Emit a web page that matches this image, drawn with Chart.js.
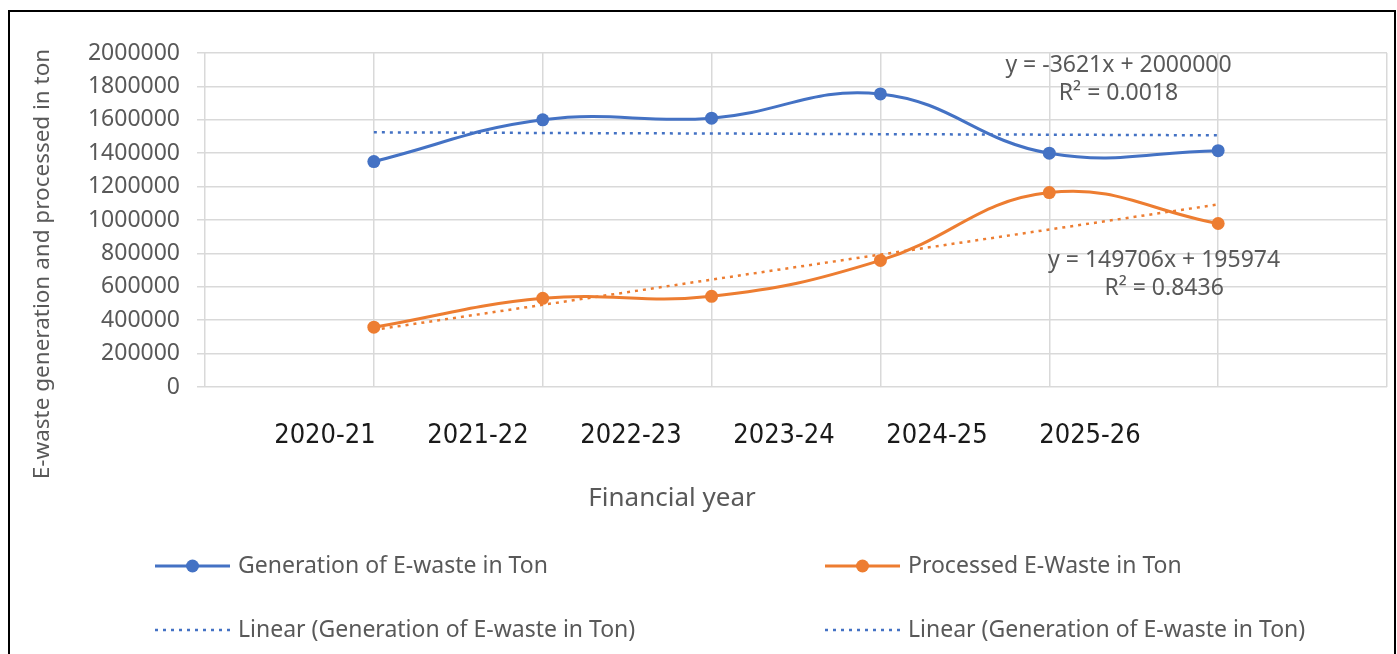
<!DOCTYPE html>
<html>
<head>
<meta charset="utf-8">
<script src="https://cdn.jsdelivr.net/npm/chart.js@4.4.1/dist/chart.umd.min.js"></script>
<style>
  html, body { margin: 0; padding: 0; background: #fff; overflow: hidden; }
  #frame { position: absolute; left: 8px; top: 10px; width: 1384px; height: 700px; border: 2px solid #000; }
  #wrap { position: relative; width: 1384px; height: 660px; }
</style>
</head>
<body>
<div id="frame"><div id="wrap"><canvas id="chart"></canvas></div></div>
<script>
const years = ["2020-21", "2021-22", "2022-23", "2023-24", "2024-25", "2025-26"];
const generation = [1350000, 1600000, 1610000, 1755000, 1400000, 1415000];
const processed = [358000, 531000, 543000, 758000, 1164000, 979000];
const generationTrend = [1525000, 1521000, 1518000, 1514000, 1511000, 1507000];
const processedTrend = [342000, 492000, 643000, 793000, 943000, 1093000];
const generationEq = ["y = -3621x + 2000000", "R² = 0.0018"];
const processedEq = ["y = 149706x + 195974", "R² = 0.8436"];
const legendLabels = [
    "Generation of E-waste in Ton",
    "Processed E-Waste in Ton",
    "Linear (Generation of E-waste in Ton)",
    "Linear (Generation of E-waste in Ton)"
];

const BLUE = "#4472C4";
const ORANGE = "#ED7D31";
const GRID = "#d9d9d9";
const GREY = "#595959";
const FONT = "'Noto Sans', 'DejaVu Sans', sans-serif";
const NARROW = "'Liberation Sans Narrow', 'DejaVu Sans Condensed', sans-serif";

const pts = arr => arr.map((v, i) => ({ x: i + 1, y: v }));

// free texts: axis titles and the trendline equations
const textPlugin = {
    id: "freeText",
    afterDraw(chart) {
        const c = chart.ctx;
        const { x, y } = chart.scales;
        c.save();
        c.fillStyle = GREY;
        c.textAlign = "center";
        c.textBaseline = "middle";

        c.font = `22.5px ${FONT}`;
        c.save();
        c.translate(33, 252);
        c.rotate(-Math.PI / 2);
        c.fillText("E-waste generation and processed in ton", 0, 0);
        c.restore();

        c.font = `26px ${FONT}`;
        c.fillText("Financial year", 662, 487);

        c.font = `23px ${FONT}`;
        c.fillText(generationEq[0], x.getPixelForValue(5.41), y.getPixelForValue(1925000));
        c.fillText(generationEq[1], x.getPixelForValue(5.41), y.getPixelForValue(1760000));
        c.fillText(processedEq[0], x.getPixelForValue(5.68), y.getPixelForValue(758000));
        c.fillText(processedEq[1], x.getPixelForValue(5.68), y.getPixelForValue(591000));
        c.restore();
    }
};

// two-column legend like the Excel one
const legendPlugin = {
    id: "gridLegend",
    afterDraw(chart) {
        const c = chart.ctx;
        const cols = [145, 815];
        const rows = [554, 618];
        const len = 75;
        c.save();
        chart.data.datasets.forEach((ds, i) => {
            const x0 = cols[i % 2];
            const y0 = rows[Math.floor(i / 2)];
            const col = ds.legendColor || ds.borderColor;
            c.strokeStyle = col;
            c.fillStyle = col;
            c.lineWidth = ds.borderWidth;
            c.setLineDash(ds.borderDash || []);
            c.beginPath();
            c.moveTo(x0, y0);
            c.lineTo(x0 + len, y0);
            c.stroke();
            c.setLineDash([]);
            if (ds.pointRadius) {
                c.beginPath();
                c.arc(x0 + len / 2, y0, ds.pointRadius, 0, Math.PI * 2);
                c.fill();
            }
            c.fillStyle = GREY;
            c.font = `23px ${FONT}`;
            c.textAlign = "left";
            c.textBaseline = "middle";
            c.fillText(legendLabels[i], x0 + len + 8, y0);
        });
        c.restore();
    }
};

new Chart(document.getElementById("chart"), {
    type: "line",
    data: {
        datasets: [
            {
                label: legendLabels[0],
                data: pts(generation),
                borderColor: BLUE,
                backgroundColor: BLUE,
                borderWidth: 3,
                pointRadius: 6.5,
                pointBorderWidth: 0,
                tension: 0.42
            },
            {
                label: legendLabels[1],
                data: pts(processed),
                borderColor: ORANGE,
                backgroundColor: ORANGE,
                borderWidth: 3,
                pointRadius: 6.5,
                pointBorderWidth: 0,
                tension: 0.42
            },
            {
                label: legendLabels[2],
                data: pts(generationTrend),
                borderColor: BLUE,
                borderWidth: 2.5,
                borderDash: [3, 5],
                pointRadius: 0,
                tension: 0
            },
            {
                label: legendLabels[3],
                data: pts(processedTrend),
                borderColor: ORANGE,
                legendColor: BLUE,
                borderWidth: 2.5,
                borderDash: [3, 5],
                pointRadius: 0,
                tension: 0
            }
        ]
    },
    options: {
        responsive: true,
        maintainAspectRatio: false,
        animation: false,
        layout: { padding: { left: 0, right: 7, top: 41, bottom: 160 } },
        plugins: {
            legend: { display: false },
            tooltip: { enabled: false }
        },
        scales: {
            x: {
                type: "linear",
                min: 0,
                max: 7,
                ticks: { display: false, stepSize: 1 },
                grid: { color: GRID, lineWidth: 1.5, drawTicks: false },
                border: { display: false },
                afterFit: s => { s.height = 0; }
            },
            x2: {
                type: "linear",
                position: "bottom",
                min: -0.784,
                max: 6.941,
                afterBuildTicks: s => { s.ticks = years.map((_, i) => ({ value: i })); },
                ticks: {
                    autoSkip: false,
                    maxRotation: 0,
                    padding: 33,
                    color: "#1a1a1a",
                    font: { family: NARROW, size: 27 },
                    callback: v => years[v]
                },
                grid: { display: false, drawTicks: false },
                border: { display: false },
                afterFit: s => { s.height = 125; }
            },
            y: {
                min: 0,
                max: 2000000,
                ticks: {
                    stepSize: 200000,
                    padding: 17,
                    color: GREY,
                    font: { family: FONT, size: 23 },
                    callback: v => String(v)
                },
                grid: { color: GRID, lineWidth: 1.5, tickLength: 8 },
                border: { display: false },
                afterFit: s => { s.width = 195; }
            }
        }
    },
    plugins: [textPlugin, legendPlugin]
});
</script>
</body>
</html>
